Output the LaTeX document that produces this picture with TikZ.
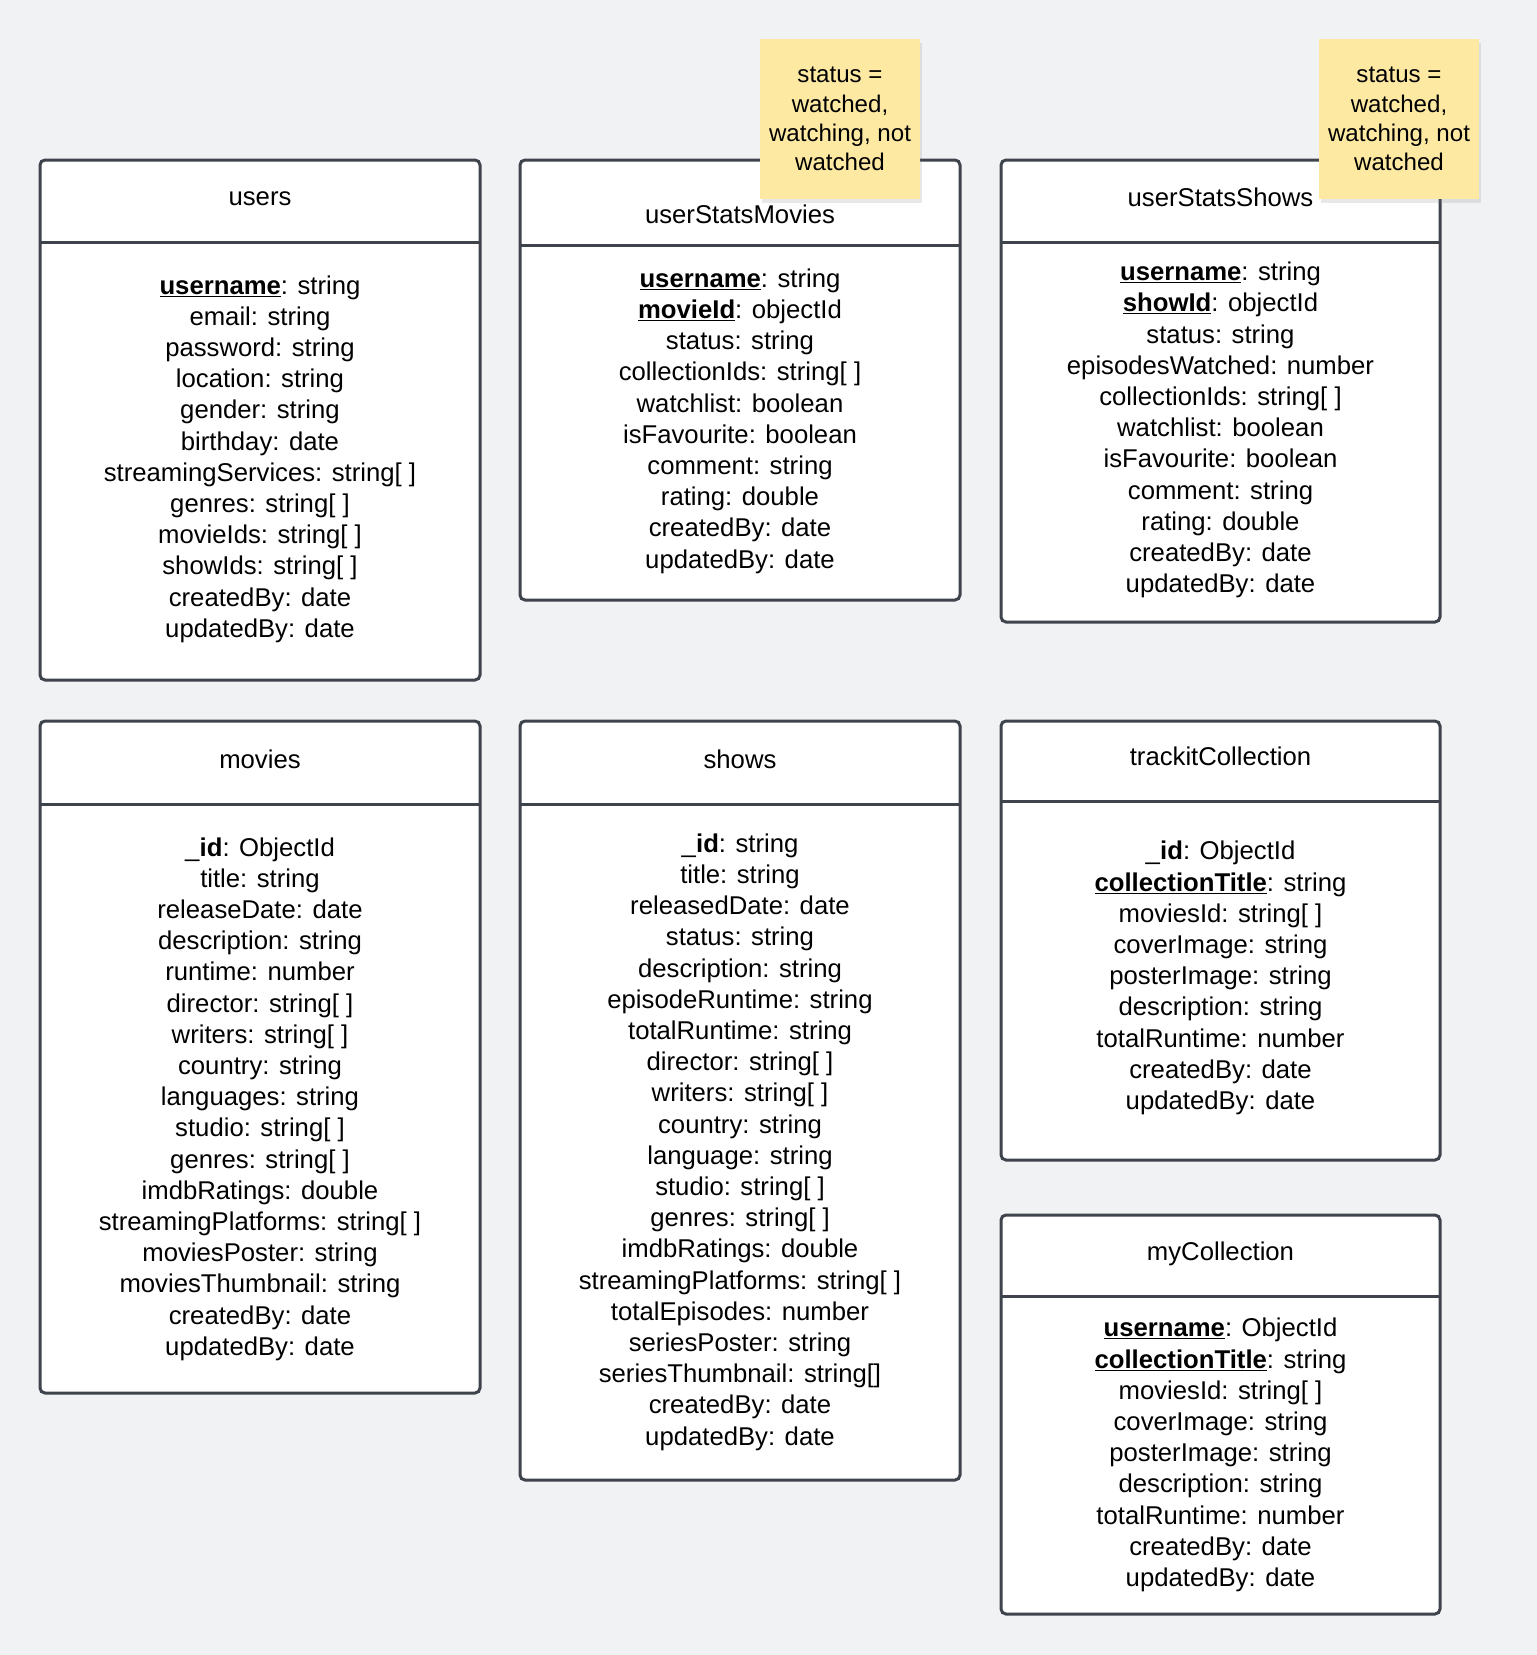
\documentclass[tikz,border=0pt]{standalone}
\usepackage{fontspec}
\setmainfont{Liberation Sans}
\usepackage{tikz}
\usetikzlibrary{shadows}
\definecolor{pagebg}{RGB}{241,242,244}
\definecolor{boxline}{RGB}{62,67,76}
\definecolor{noteyellow}{RGB}{254,233,163}
\newcommand{\pkey}[1]{\underline{\textbf{#1}}}
\tikzset{
  tablebox/.style={draw=boxline, fill=white, line width=3pt, rounded corners=5pt},
  tablerule/.style={draw=boxline, line width=3pt},
  tabletitle/.style={font=\fontsize{25.7}{31.2}\selectfont, inner sep=0pt},
  fields/.style={align=center, font=\fontsize{25.7}{31.2}\selectfont, inner sep=0pt},
  notebox/.style={rectangle, fill=noteyellow, minimum width=160pt, minimum height=160pt,
    align=center, font=\fontsize{24.1}{29.2}\selectfont, inner sep=0pt,
    drop shadow={shadow xshift=2pt, shadow yshift=-4pt, opacity=0.18}}
}
\begin{document}
\begin{tikzpicture}[x=1pt, y=-1pt]
  \useasboundingbox[fill=pagebg] (0,0) rectangle (1537,1655);

  % users
  \draw[tablebox] (40,160) rectangle (480,680);
  \draw[tablerule] (40,242) -- (480,242);
  \node[tabletitle] (users) at (260,199) {users};
  \node[fields] (usersfields) at (260,459) {\pkey{username}: string\\ email: string\\ password: string\\
    location: string\\ gender: string\\ birthday: date\\ streamingServices: string[ ]\\ genres: string[ ]\\
    movieIds: string[ ]\\ showIds: string[ ]\\ createdBy: date\\ updatedBy: date};

  % userStatsMovies
  \draw[tablebox] (520,160) rectangle (960,600);
  \draw[tablerule] (520,245) -- (960,245);
  \node[tabletitle] (statsmovies) at (740,214) {userStatsMovies};
  \node[fields] (statsmoviesfields) at (740,421) {\pkey{username}: string\\ \pkey{movieId}: objectId\\
    status: string\\ collectionIds: string[ ]\\ watchlist: boolean\\ isFavourite: boolean\\
    comment: string\\ rating: double\\ createdBy: date\\ updatedBy: date};

  % userStatsShows
  \draw[tablebox] (1001,160) rectangle (1440,622);
  \draw[tablerule] (1001,242) -- (1440,242);
  \node[tabletitle] (statsshows) at (1220.5,197) {userStatsShows};
  \node[fields] (statsshowsfields) at (1220.5,430) {\pkey{username}: string\\ \pkey{showId}: objectId\\
    status: string\\ episodesWatched: number\\ collectionIds: string[ ]\\ watchlist: boolean\\
    isFavourite: boolean\\ comment: string\\ rating: double\\ createdBy: date\\ updatedBy: date};

  % movies
  \draw[tablebox] (40,721) rectangle (480,1393);
  \draw[tablerule] (40,804) -- (480,804);
  \node[tabletitle] (movies) at (260,759) {movies};
  \node[fields] (moviesfields) at (260,1099) {\_\textbf{id}: ObjectId\\ title: string\\ releaseDate: date\\
    description: string\\ runtime: number\\ director: string[ ]\\ writers: string[ ]\\ country: string\\
    languages: string\\ studio: string[ ]\\ genres: string[ ]\\ imdbRatings: double\\
    streamingPlatforms: string[ ]\\ moviesPoster: string\\ moviesThumbnail: string\\
    createdBy: date\\ updatedBy: date};

  % shows
  \draw[tablebox] (520,721) rectangle (960,1480);
  \draw[tablerule] (520,804) -- (960,804);
  \node[tabletitle] (shows) at (740,759) {shows};
  \node[fields] (showsfields) at (740,1142) {\_\textbf{id}: string\\ title: string\\ releasedDate: date\\
    status: string\\ description: string\\ episodeRuntime: string\\ totalRuntime: string\\
    director: string[ ]\\ writers: string[ ]\\ country: string\\ language: string\\ studio: string[ ]\\
    genres: string[ ]\\ imdbRatings: double\\ streamingPlatforms: string[ ]\\ totalEpisodes: number\\
    seriesPoster: string\\ seriesThumbnail: string[]\\ createdBy: date\\ updatedBy: date};

  % trackitCollection
  \draw[tablebox] (1001,721) rectangle (1440,1160);
  \draw[tablerule] (1001,801) -- (1440,801);
  \node[tabletitle] (trackit) at (1220.5,756) {trackitCollection};
  \node[fields] (trackitfields) at (1220.5,978) {\_\textbf{id}: ObjectId\\ \pkey{collectionTitle}: string\\
    moviesId: string[ ]\\ coverImage: string\\ posterImage: string\\ description: string\\
    totalRuntime: number\\ createdBy: date\\ updatedBy: date};

  % myCollection
  \draw[tablebox] (1001,1215) rectangle (1440,1614);
  \draw[tablerule] (1001,1296) -- (1440,1296);
  \node[tabletitle] (mycoll) at (1220.5,1254) {myCollection};
  \node[fields] (mycollfields) at (1220.5,1455) {\pkey{username}: ObjectId\\ \pkey{collectionTitle}: string\\
    moviesId: string[ ]\\ coverImage: string\\ posterImage: string\\ description: string\\
    totalRuntime: number\\ createdBy: date\\ updatedBy: date};

  % sticky notes
  \node[notebox] (moviesnote) at (840,119) {status =\\ watched,\\ watching, not\\ watched};
  \node[notebox] (showsnote) at (1399,119) {status =\\ watched,\\ watching, not\\ watched};
\end{tikzpicture}
\end{document}
